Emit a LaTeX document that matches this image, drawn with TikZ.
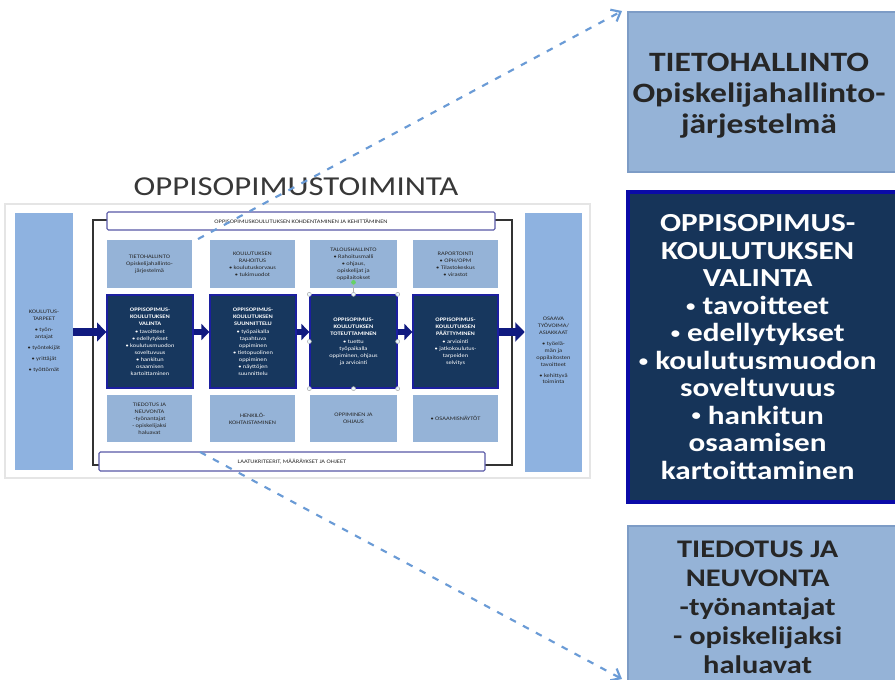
\documentclass[tikz,border=0pt]{standalone}
\usepackage{graphicx}
\usepackage{fontspec}
\setmainfont{Carlito}[FakeStretch=1.2]
\usetikzlibrary{arrows.meta,fit,calc}
\definecolor{lightbox}{HTML}{95B3D7}
\definecolor{lightedge}{HTML}{7D9CC6}
\definecolor{colbox}{HTML}{8EB2E0}
\definecolor{darkbox}{HTML}{17375E}
\definecolor{darkedge}{HTML}{1C1FA0}
\definecolor{bigdarkedge}{HTML}{0A0AA8}
\definecolor{navyarrow}{HTML}{101A80}
\definecolor{dashblue}{HTML}{6A9BD6}
\definecolor{txtgray}{HTML}{262626}
\newcommand\thumbfont{\fontsize{4}{5.2}\selectfont}
\newcommand\bul{\raisebox{0.12em}{\scalebox{0.6}{•}}}
\tikzset{
  thumblight/.style={fill=lightbox, draw=none, inner sep=0pt, align=center, text=txtgray, font=\thumbfont},
  thumbdark/.style={fill=darkbox, draw=darkedge, line width=1pt, inner sep=0pt, align=center, text=white, font=\thumbfont\bfseries},
  thumbcol/.style={fill=colbox, draw=none, inner sep=0pt, align=center, text=txtgray, font=\thumbfont},
  thumbbar/.style={fill=white, draw=gray!70!blue, line width=0.8pt, rounded corners=1pt, inner sep=0pt, align=center, text=txtgray, font=\thumbfont},
  plaintext/.style={fill=none, draw=none},
  framebox/.style={draw=black!80, line width=1.3pt},
  blockarrow/.style={navyarrow, line width=5pt, -{Triangle[length=6pt, width=12pt]}},
  bigarrow/.style={navyarrow, line width=6pt, -{Triangle[length=7pt, width=14pt]}},
  biglight/.style={fill=lightbox, draw=lightedge, line width=1.5pt, inner sep=0pt, align=center, text=txtgray},
  bigdark/.style={fill=darkbox!95!black, draw=bigdarkedge, line width=2.5pt, inner sep=0pt, align=center, text=white},
  zoomarrow/.style={draw=dashblue, line width=1.6pt, dash pattern=on 5pt off 6pt, -{Straight Barb[length=6pt, width=10pt]}},
  handle/.style={circle, fill=cyan!8, draw=gray!60, line width=0.4pt, inner sep=0pt, minimum size=3pt}
}
\begin{document}
\begin{tikzpicture}[x=0.75pt, y=-0.75pt]
\useasboundingbox (0,0) rectangle (895,680);
\fill[white] (0,0) rectangle (895,680);
% thumbnail background
\draw[gray!20, line width=0.8pt] (5,204) rectangle (590,478);
% title
\node[font=\fontsize{20.5}{22}\selectfont, text=black!78] (title) at (296,187) {OPPISOPIMUSTOIMINTA};
% frame
\draw[framebox] (93,220) rectangle (512,465);
% side columns
\node[thumbcol, fit={(15,213)(73,470)}] (L) {};
\node[thumbcol, plaintext] at (L.center) {KOULUTUS-\\TARPEET\\[3pt]• työn-\\antajat\\[3pt]• työntekijät\\[3pt]• yrittäjät\\[3pt]• työttömät};
\node[thumbcol, fit={(525,213)(582,472)}] (R) {};
\node[thumbcol, plaintext] at ([yshift=-6]R.center) {OSAAVA\\TYÖVOIMA/\\ASIAKKAAT\\[3pt]• työelä-\\män ja\\oppilaitosten\\tavoitteet\\[3pt]• kehittyvä\\toiminta};
% bars
\node[thumbbar, fit={(107,212)(495,230)}] (topbar) {};
\node[thumbbar, plaintext] at (topbar.center) {OPPISOPIMUSKOULUTUKSEN KOHDENTAMINEN JA KEHITTÄMINEN};
\node[thumbbar, fit={(99,452)(485,471)}] (botbar) {};
\node[thumbbar, plaintext] at (botbar.center) {LAATUKRITEERIT, MÄÄRÄYKSET JA OHJEET};
% top row
\node[thumblight, fit={(107,240)(192,288)}] (T1) {};
\node[thumblight, fit={(210,240)(295,288)}] (T2) {};
\node[thumblight, fit={(310,240)(397,288)}] (T3) {};
\node[thumblight, fit={(413,240)(498,288)}] (T4) {};
\node[thumblight, plaintext] at (T1.center) {TIETOHALLINTO\\Opiskelijahallinto-\\järjestelmä};
\node[thumblight, plaintext] at (T2.center) {KOULUTUKSEN\\RAHOITUS\\• koulutuskorvaus\\• tukimuodot};
\node[thumblight, plaintext] at (T3.center) {TALOUSHALLINTO\\• Rahoitusmalli\\• ohjaus,\\opiskelijat ja\\oppilaitokset};
\node[thumblight, plaintext] at (T4.center) {RAPORTOINTI\\• OPH/OPM\\• Tilastokeskus\\• virastot};
% dark row
\node[thumbdark, fit={(107,295)(193,388)}] (D1) {};
\node[thumbdark, fit={(210,295)(296,388)}] (D2) {};
\node[thumbdark, fit={(310,295)(397,388)}] (D3) {};
\node[thumbdark, fit={(413,295)(498,388)}] (D4) {};
\node[thumbdark, plaintext] at (D1.center) {OPPISOPIMUS-\\KOULUTUKSEN\\VALINTA\\[1pt]\mdseries • tavoitteet\\\mdseries • edellytykset\\\mdseries • koulutusmuodon\\\mdseries soveltuvuus\\\mdseries • hankitun\\\mdseries osaamisen\\\mdseries kartoittaminen};
\node[thumbdark, plaintext] at (D2.center) {OPPISOPIMUS-\\KOULUTUKSEN\\SUUNNITTELU\\[1pt]\mdseries • työpaikalla\\\mdseries tapahtuva\\\mdseries oppiminen\\\mdseries • tietopuolinen\\\mdseries oppiminen\\\mdseries • näyttöjen\\\mdseries suunnittelu};
\node[thumbdark, plaintext] at (D3.center) {OPPISOPIMUS-\\KOULUTUKSEN\\TOTEUTTAMINEN\\[1pt]\mdseries • tuettu\\\mdseries työpaikalla\\\mdseries oppiminen, ohjaus\\\mdseries ja arviointi};
\node[thumbdark, plaintext] at (D4.center) {OPPISOPIMUS-\\KOULUTUKSEN\\PÄÄTTYMINEN\\[1pt]\mdseries • arviointi\\\mdseries • jatkokoulutus-\\\mdseries tarpeiden\\\mdseries selvitys};
% bottom row
\node[thumblight, fit={(107,395)(192,442)}] (B1) {};
\node[thumblight, fit={(210,395)(295,442)}] (B2) {};
\node[thumblight, fit={(310,395)(397,442)}] (B3) {};
\node[thumblight, fit={(413,395)(498,442)}] (B4) {};
\node[thumblight, plaintext] at (B1.center) {TIEDOTUS JA\\NEUVONTA\\-työnantajat\\- opiskelijaksi\\haluavat};
\node[thumblight, plaintext] at (B2.center) {HENKILÖ-\\KOHTAISTAMINEN};
\node[thumblight, plaintext] at (B3.center) {OPPIMINEN JA\\OHJAUS};
\node[thumblight, plaintext] at (B4.center) {• OSAAMISNÄYTÖT};
% selection handles on D3
\draw[gray!60, line width=0.4pt] (D3.north) -- ++(0,-12) node[circle, fill=green!70!black!60, inner sep=0pt, minimum size=3.5pt] {};
\foreach \a in {north west,north,north east,east,south east,south,south west,west}
  \node[handle] at (D3.\a) {};
% block arrows
\draw[bigarrow] (L.east |- 0,332) -- (D1.west |- 0,332);
\draw[blockarrow] (D1.east |- 0,332) -- (D2.west |- 0,332);
\draw[blockarrow] (D2.east |- 0,332) -- (D3.west |- 0,332);
\draw[blockarrow] (D3.east |- 0,332) -- (D4.west |- 0,332);
\draw[bigarrow] (D4.east |- 0,332) -- (R.west |- 0,332);
% big right boxes
\node[biglight, fit={(628,12)(898,172)}] (R1) {};
\node[biglight, plaintext, font=\fontsize{21}{23.25}\selectfont\bfseries] at ([xshift=-3,yshift=-3]R1.center) {TIETOHALLINTO\\Opiskelijahallinto-\\järjestelmä};
\node[bigdark, fit={(628,192)(898,502)}] (R2) {};
\node[bigdark, plaintext, font=\fontsize{19.5}{20.6}\selectfont\bfseries] at ([xshift=-4]R2.center) {OPPISOPIMUS-\\KOULUTUKSEN\\VALINTA\\\bul\ tavoitteet\\\bul\ edellytykset\\\bul\ koulutusmuodon\\soveltuvuus\\\bul\ hankitun\\osaamisen\\kartoittaminen};
\node[biglight, fit={(628,526)(898,684)}] (R3) {};
\node[biglight, plaintext, font=\fontsize{19}{21.75}\selectfont\bfseries] at ([xshift=-4,yshift=-2]R3.center) {TIEDOTUS JA\\NEUVONTA\\-työnantajat\\- opiskelijaksi\\haluavat};
% dashed zoom arrows
\coordinate (s1) at (198,239);
\coordinate (s2) at (200,452);
\draw[zoomarrow] (s1) -- ($(R1.north west)+(-5,0)$);
\draw[zoomarrow] (s2) -- ($(R3.south west)+(-5,-6)$);
\end{tikzpicture}
\end{document}
